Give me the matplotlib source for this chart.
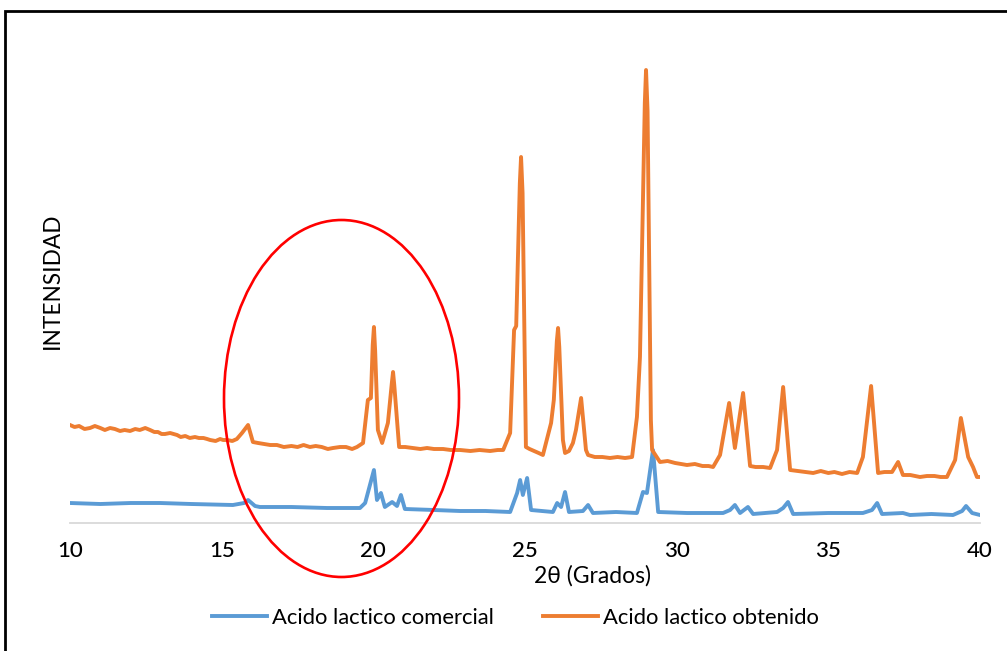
import matplotlib
matplotlib.use("Agg")
import matplotlib.pyplot as plt
from matplotlib.patches import Ellipse, Rectangle
from matplotlib.lines import Line2D

# ---- data ----
theta_obtenido = [10.00, 10.15, 10.30, 10.48, 10.66, 10.82, 11.00, 11.15, 11.32, 11.48, 11.65, 11.80,
                  11.98, 12.15, 12.30, 12.48, 12.64, 12.78, 12.90, 13.02, 13.13, 13.30, 13.53, 13.65,
                  13.80, 13.95, 14.12, 14.25, 14.40, 14.52, 14.62, 14.80, 14.95, 15.05, 15.18, 15.35,
                  15.50, 15.67, 15.87, 16.03, 16.20, 16.40, 16.60, 16.82, 17.05, 17.30, 17.50, 17.70,
                  17.91, 18.10, 18.30, 18.50, 18.67, 18.90, 19.10, 19.30, 19.46, 19.66, 19.82, 19.92,
                  19.98, 20.02, 20.06, 20.15, 20.29, 20.48, 20.61, 20.65, 20.69, 20.85, 21.05, 21.30,
                  21.55, 21.77, 22.00, 22.30, 22.55, 22.86, 23.20, 23.50, 23.85, 24.10, 24.28, 24.51,
                  24.64, 24.71, 24.83, 24.87, 24.92, 25.03, 25.15, 25.30, 25.45, 25.59, 25.86, 25.95,
                  26.05, 26.09, 26.13, 26.25, 26.32, 26.45, 26.58, 26.68, 26.85, 27.01, 27.08, 27.30,
                  27.55, 27.80, 28.05, 28.30, 28.53, 28.69, 28.79, 28.95, 28.99, 29.04, 29.15, 29.19,
                  29.45, 29.70, 29.95, 30.15, 30.34, 30.60, 30.85, 31.05, 31.20, 31.43, 31.73, 31.92,
                  32.19, 32.42, 32.60, 32.85, 33.08, 33.31, 33.51, 33.74, 34.00, 34.25, 34.50, 34.75,
                  35.00, 35.20, 35.45, 35.70, 35.95, 36.14, 36.41, 36.64, 36.85, 37.10, 37.30, 37.46,
                  37.70, 38.02, 38.25, 38.50, 38.70, 38.91, 39.18, 39.37, 39.61, 39.77, 39.90, 40.00]
int_obtenido = [98, 96, 97, 94, 95, 97, 95, 93, 95, 94, 92, 93,
                92, 94, 93, 95, 93, 91, 91, 89, 89, 90, 88, 86,
                87, 85, 86, 85, 85, 84, 83, 82, 84, 83, 83, 82,
                84, 90, 98, 81, 80, 79, 78, 78, 76, 77, 76, 78,
                76, 77, 76, 74, 75, 76, 76, 74, 76, 80, 123, 125,
                178, 196, 172, 93, 80, 100, 140, 151, 138, 76, 76, 75,
                74, 75, 74, 74, 73, 73, 72, 73, 72, 73, 73, 90,
                193, 197, 340, 366, 330, 76, 74, 72, 70, 68, 100, 123,
                182, 195, 176, 83, 70, 72, 80, 93, 125, 73, 68, 66,
                66, 65, 66, 65, 66, 106, 166, 420, 453, 412, 103, 73,
                61, 62, 60, 59, 58, 59, 57, 57, 56, 68, 120, 75,
                130, 57, 56, 56, 55, 73, 136, 53, 52, 51, 50, 52,
                50, 51, 49, 51, 50, 66, 137, 50, 51, 51, 61, 48,
                48, 46, 47, 47, 46, 46, 63, 105, 66, 56, 46, 46]

theta_comercial = [10.00, 11.00, 12.00, 12.97, 14.00, 15.37, 15.74, 15.87, 16.10, 16.26, 17.30, 18.47,
                   19.56, 19.73, 20.02, 20.12, 20.25, 20.38, 20.62, 20.78, 20.91, 21.04, 22.00, 22.86,
                   23.70, 24.51, 24.74, 24.84, 24.93, 25.07, 25.20, 25.92, 26.06, 26.19, 26.32, 26.45,
                   26.91, 27.08, 27.24, 28.00, 28.69, 28.89, 29.02, 29.22, 29.39, 30.34, 31.53, 31.76,
                   31.92, 32.09, 32.35, 32.52, 33.31, 33.51, 33.67, 33.84, 35.00, 36.14, 36.44, 36.61,
                   36.77, 37.46, 37.69, 38.40, 39.11, 39.41, 39.54, 39.74, 40.00]
int_comercial = [20, 19, 20, 20, 19, 18, 20, 23, 17, 16, 16, 15,
                 15, 20, 53, 23, 30, 16, 21, 17, 28, 14, 13, 12,
                 12, 11, 30, 43, 28, 45, 13, 11, 20, 16, 31, 11,
                 12, 18, 10, 11, 10, 31, 30, 73, 11, 10, 10, 13,
                 18, 10, 16, 9, 11, 15, 21, 9, 10, 10, 13, 20,
                 9, 10, 8, 9, 8, 12, 17, 10, 8]

x_ticks = [10, 15, 20, 25, 30, 35, 40]
series_names = ["Acido lactico comercial", "Acido lactico obtenido"]
colors = ["#5B9BD5", "#ED7D31"]

W, H = 1007, 651
plt.rcParams['font.family'] = ['Lato', 'DejaVu Sans']

fig = plt.figure(figsize=(W / 100, H / 100), dpi=100)
fig.patch.set_facecolor("white")

ax = fig.add_axes([70 / W, 1 - 523 / H, (980 - 70) / W, (523 - 25) / H])
ax.plot(theta_comercial, int_comercial, color=colors[0], lw=2.8, solid_joinstyle="round")
ax.plot(theta_obtenido, int_obtenido, color=colors[1], lw=2.8, solid_joinstyle="round")
ax.set_xlim(10, 40)
ax.set_ylim(0, 498)
ax.set_xticks(x_ticks)
ax.set_xticklabels([str(t) for t in x_ticks], fontsize=16, fontweight="medium")
ax.tick_params(axis="x", length=0, pad=13, colors="#000000")
ax.set_yticks([])
for s in ["top", "right", "left"]:
    ax.spines[s].set_visible(False)
ax.spines["bottom"].set_color("#D9D9D9")
ax.spines["bottom"].set_linewidth(1.3)

fig.text(592 / W, 1 - 576 / H, "2θ (Grados)", ha="center", va="center", fontsize=16.5)
fig.text(52 / W, 1 - 281 / H, "INTENSIDAD", ha="center", va="center", rotation=90, fontsize=16.3)

handles = [Line2D([], [], color=colors[0], lw=2.8), Line2D([], [], color=colors[1], lw=2.8)]
fig.legend(handles, series_names, loc="center", bbox_to_anchor=(515.5 / W, 1 - 618 / H), ncol=2,
           frameon=False, fontsize=15.8, handlelength=2.5, handletextpad=0.25, columnspacing=2.2)

# red ellipse annotation
ell = Ellipse((341.5 / W, 1 - 398.5 / H), 235 / W, 357 / H, transform=fig.transFigure,
              fill=False, edgecolor="#FF0000", lw=1.9, zorder=5)
fig.patches.append(ell)

# outer black frame (top and left visible)
frame = Rectangle((5 / W, -0.2), 1.5, 1.2 - 10.5 / H, transform=fig.transFigure,
                  fill=False, edgecolor="black", lw=2.0, zorder=6)
fig.patches.append(frame)

fig.savefig("out.png", dpi=100, facecolor="white")
